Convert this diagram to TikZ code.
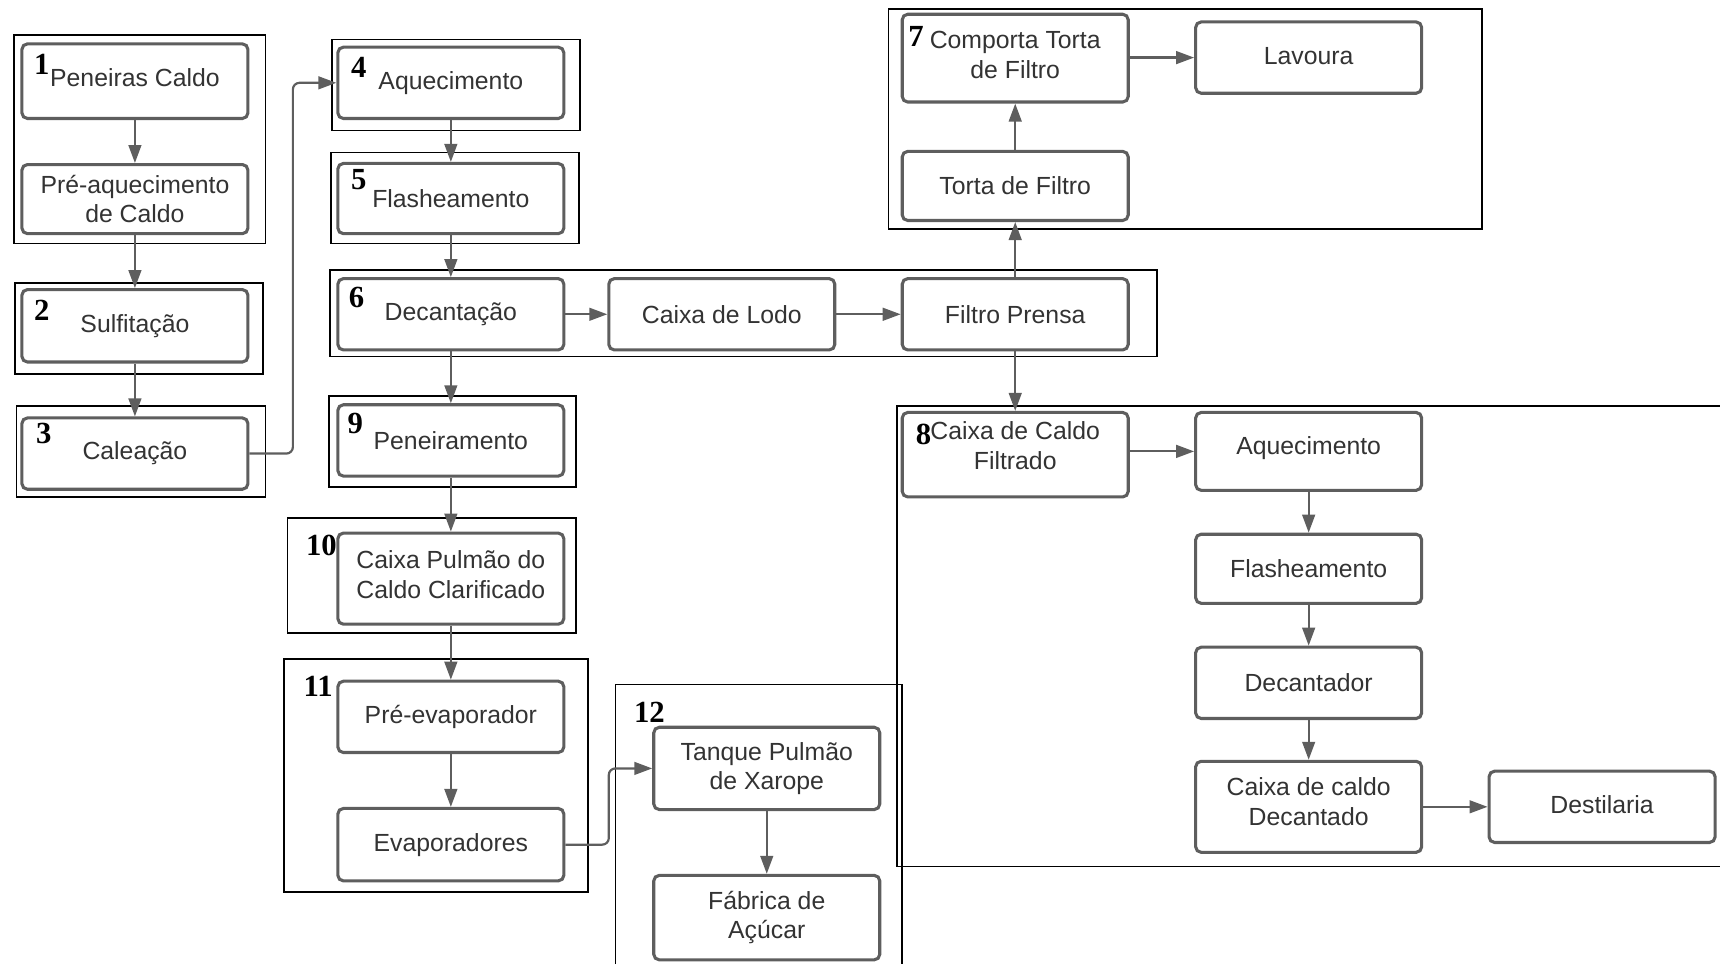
\documentclass[tikz,border=0pt]{standalone}
\usepackage{fontspec}
\setmainfont{Liberation Sans}
\newfontfamily\numfont{Liberation Serif}
\usetikzlibrary{arrows.meta}
\definecolor{bgray}{HTML}{5E5E5E}
\definecolor{tgray}{HTML}{333333}
\begin{document}
\begin{tikzpicture}[x=0.5pt,y=-0.5pt,
  box/.style={draw=bgray, line width=1.4pt, rounded corners=2.5pt, fill=white, text=tgray,
    align=center, font=\fontsize{11.3}{13.5}\selectfont, inner sep=0pt, minimum width=103pt},
  txt/.style={text=tgray, align=center, font=\fontsize{11.3}{13.5}\selectfont, inner sep=0pt},
  grp/.style={draw=black, line width=0.8pt},
  arr/.style={draw=bgray, line width=1pt, rounded corners=3pt, -{Triangle[length=8.2pt,width=5.8pt]}},
  num/.style={font=\numfont\bfseries\fontsize{14}{14}\selectfont, text=black, inner sep=0pt}]
\useasboundingbox (0,0) rectangle (1568,879);
% group frames
\draw[grp] (13,32) rectangle (242,222);
\draw[grp] (14,258) rectangle (240,341);
\draw[grp] (15,370) rectangle (242,453);
\draw[grp] (303,36) rectangle (529,119);
\draw[grp] (302,139) rectangle (528,222);
\draw[grp] (301,246) rectangle (1055,325);
\draw[grp] (810,8) rectangle (1351,209);
\draw[grp] (300,361) rectangle (525,444);
\draw[grp] (262,472) rectangle (525,577);
\draw[grp] (259,601) rectangle (536,813);
\draw[grp] (561,879) -- (561,624) -- (822,624) -- (822,879);
\draw[grp] (1568,370) -- (818,370) -- (818,790) -- (1568,790);
% boxes
\node[box, minimum height=34pt] (pen) at (123,74) {};
\node[txt] (pent) at (123,71) {Peneiras Caldo};
\node[box, minimum height=31.5pt] (preaq) at (123,181.5) {Pré-aquecimento\\de Caldo};
\node[box, minimum height=33pt] (sulf) at (123,297) {Sulfitação};
\node[box, minimum height=32.5pt] (cal) at (123,413.5) {Caleação};
\node[box, minimum height=32.5pt] (aq) at (411,75.5) {Aquecimento};
\node[box, minimum height=32pt] (fla) at (411,181) {Flasheamento};
\node[box, minimum height=32.5pt] (dec) at (411,286.5) {Decantação};
\node[box, minimum height=32.5pt] (lodo) at (658,286.5) {Caixa de Lodo};
\node[box, minimum height=32.5pt] (fp) at (925.5,286.5) {Filtro Prensa};
\node[box, minimum height=40pt] (comp) at (925.5,53) {};
\node[txt] (compt) at (925.5,50) {Comporta Torta\\de Filtro};
\node[box, minimum height=32.5pt] (lav) at (1193,52.5) {};
\node[txt] (lavt) at (1193,51) {Lavoura};
\node[box, minimum height=31.5pt] (torta) at (925.5,169.5) {Torta de Filtro};
\node[box, minimum height=32.5pt] (pen9) at (411,401.5) {Peneiramento};
\node[box, minimum height=41.5pt] (cp) at (411,527.5) {};
\node[txt] (cpt) at (411,524) {Caixa Pulmão do\\Caldo Clarificado};
\node[box, minimum height=32.5pt] (preev) at (411,653.5) {Pré-evaporador};
\node[box, minimum height=33pt] (evap) at (411,770) {Evaporadores};
\node[box, minimum height=37.5pt] (tq) at (699,700.5) {Tanque Pulmão\\de Xarope};
\node[box, minimum height=38.5pt] (fab) at (699,836.5) {Fábrica de\\Açúcar};
\node[box, minimum height=38.5pt] (ccf) at (925.5,414.5) {};
\node[txt] (ccft) at (925.5,406.5) {Caixa de Caldo\\Filtrado};
\node[box, minimum height=35.5pt] (aq8) at (1193,411.5) {};
\node[txt] (aq8t) at (1193,408.5) {Aquecimento};
\node[box, minimum height=31.5pt] (fl8) at (1193,518.5) {Flasheamento};
\node[box, minimum height=32.5pt] (decr) at (1193,622.5) {Decantador};
\node[box, minimum height=41.5pt] (ccd) at (1193,735.5) {};
\node[txt] (ccdt) at (1193,731) {Caixa de caldo\\Decantado};
\node[box, minimum height=32.5pt] (dest) at (1460.5,735.5) {};
\node[txt] (destt) at (1460.5,733.5) {Destilaria};
% connectors
\draw[arr] (pen) -- (preaq);
\draw[arr] (preaq) -- (sulf);
\draw[arr] (sulf) -- (cal);
\coordinate (k1) at (267,0);
\draw[arr] (cal.east) -- (cal.east -| k1) -- (aq.west -| k1) -- (aq.west);
\draw[arr] (aq) -- (fla);
\draw[arr] (fla) -- (dec);
\draw[arr] (dec) -- (lodo);
\draw[arr] (lodo) -- (fp);
\draw[arr] (fp) -- (torta);
\draw[arr] (torta) -- (comp);
\draw[arr] (comp.east |- lav.west) -- (lav.west);
\draw[arr] (fp) -- (ccf);
\draw[arr] (dec) -- (pen9);
\draw[arr] (pen9) -- (cp);
\draw[arr] (cp) -- (preev);
\draw[arr] (preev) -- (evap);
\coordinate (k2) at (555,0);
\draw[arr] (evap.east) -- (evap.east -| k2) -- (tq.west -| k2) -- (tq.west);
\draw[arr] (tq) -- (fab);
\draw[arr] (ccf.east |- aq8.west) -- (aq8.west);
\draw[arr] (aq8) -- (fl8);
\draw[arr] (fl8) -- (decr);
\draw[arr] (decr) -- (ccd);
\draw[arr] (ccd) -- (dest);
% numbers
\node[num] (n1) at (38,59) {1};
\node[num] (n2) at (38,283) {2};
\node[num] (n3) at (40,395) {3};
\node[num] (n4) at (327,61) {4};
\node[num] (n5) at (327,164) {5};
\node[num] (n6) at (325,271) {6};
\node[num] (n7) at (835,33) {7};
\node[num] (n8) at (842,396) {8};
\node[num] (n9) at (324,386) {9};
\node[num] (n10) at (293,497) {10};
\node[num] (n11) at (290,626) {11};
\node[num] (n12) at (592,649) {12};
\end{tikzpicture}
\end{document}
